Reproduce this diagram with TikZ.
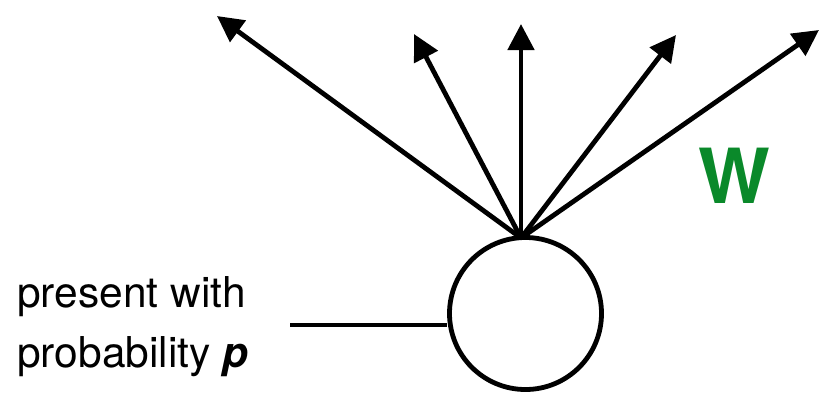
\documentclass[tikz,border=0pt]{standalone}
\usepackage{fontspec}
\setmainfont{TeX Gyre Heros}
\usetikzlibrary{arrows.meta}
\definecolor{wgreen}{RGB}{10,137,42}
\tikzset{
  edge/.style={line width=4.8pt, -{Triangle[length=26pt,width=26pt]}},
  unit/.style={circle, draw, line width=4.8pt, minimum size=152pt, inner sep=0pt},
  label/.style={inner sep=0pt, align=left, font=\fontsize{42.5}{60}\selectfont},
}
\begin{document}
\begin{tikzpicture}[x=1pt, y=-1pt]
  \useasboundingbox (0,0) rectangle (821,392);
  % the unit and its incoming line
  \node[unit] (n) at (525.5,313.5) {};
  \coordinate (src) at (290,325);
  \draw[line width=4.8pt] (src) -- (src -| n.west);
  % outgoing weighted connections
  \coordinate (hub) at (521,238);
  \coordinate (t1) at (217,16);
  \coordinate (t2) at (414,34);
  \coordinate (t3) at (521,24);
  \coordinate (t4) at (676,35);
  \coordinate (t5) at (819,30);
  \foreach \t in {t1,t2,t3,t4,t5}
    \draw[edge] (hub) -- (\t);
  % labels
  \node[label, anchor=base west] (txt) at (17,367)
    {present with\\probability \textbf{\textit{p}}};
  \node[inner sep=0pt, anchor=base west, text=wgreen,
        font=\fontsize{76}{76}\selectfont\bfseries] (w) at (698,203) {W};
\end{tikzpicture}
\end{document}
